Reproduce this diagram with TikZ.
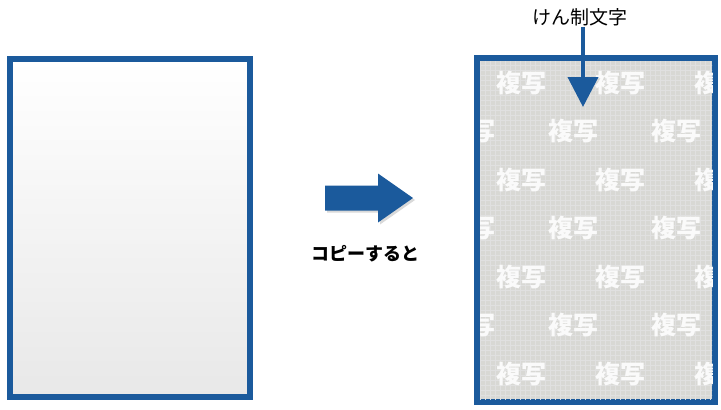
\documentclass[tikz,border=0pt]{standalone}
\usepackage{fontspec}
\newfontfamily\jpfont{Noto Sans CJK JP}
\usepackage{tikz}
\usetikzlibrary{arrows.meta,calc,positioning,shapes,shadows}
\tikzset{
  panel/.style = {draw=my_blue, line width=6pt, inner sep=0pt, rectangle,
  drop shadow={shadow xshift=2pt, shadow yshift=-3pt, opacity=0.35}},
  label_n/.style = {inner sep=1pt, black, font=\jpfont\fontsize{19}{19}\selectfont},
  label_b/.style = {label_n, font=\jpfont\bfseries\fontsize{18}{18}\selectfont}
}
\definecolor{my_blue}{RGB}{27, 90, 156}
\definecolor{my_grey}{RGB}{216, 216, 212}

\begin{document}
\begin{tikzpicture}[x=1pt, y=-1pt,
		bigarrow/.style={fill=my_blue, draw=none,
			drop shadow={shadow xshift=2pt, shadow yshift=-2pt, opacity=0.3}},
		watermark/.style={inner sep=0pt, text=white!88!my_grey,
			font=\jpfont\bfseries\fontsize{25}{25}\selectfont}]
		\useasboundingbox (0,0) rectangle (721,410);
		% original sheet and copied sheet
		\node [panel, top color=white, bottom color=black!9, minimum width=240pt, minimum height=338pt] (orig) at (130,228) {};
		\node [panel, fill=my_grey, minimum width=238pt, minimum height=344pt] (copy) at (596,230) {};
		\begin{scope}
			\clip ($(copy.north west)+(6,6)$) rectangle ($(copy.south east)+(-6,-6)$);
			\draw [black!12, line width=0.3pt, step=5pt] (copy.south west) grid (copy.north east);
			\foreach \row in {0,...,6} {
				\pgfmathsetmacro{\yy}{83+48.5*\row}
				\pgfmathsetmacro{\xs}{isodd(\row) ? 470 : 521}
				\pgfmathsetmacro{\dx}{isodd(\row) ? 103 : 99}
				\foreach \k in {0,1,2}
					\node [watermark] (wm-\row-\k) at (\xs+\dx*\k, \yy) {複写};
			}
		\end{scope}
		% copy arrow
		\coordinate (copyarrow) at (325,198);
		\path [bigarrow] (copyarrow) ++(0,-12.5) -- ++(53,0) -- ++(0,-12) -- ++(35,24.5)
			-- ++(-35,24.5) -- ++(0,-12) -- ++(-53,0) -- cycle;
		\node [label_b] (copylbl) at (365,254) {コピーすると};
		\node [label_n] (kensei) at (580,17) {けん制文字};
		\coordinate (kenseitip) at (583,107);
		\draw [my_blue, line width=4pt, -{Triangle[width=30pt, length=30pt]}] (kensei.south -| kenseitip) -- (kenseitip);
\end{tikzpicture}
\end{document}
